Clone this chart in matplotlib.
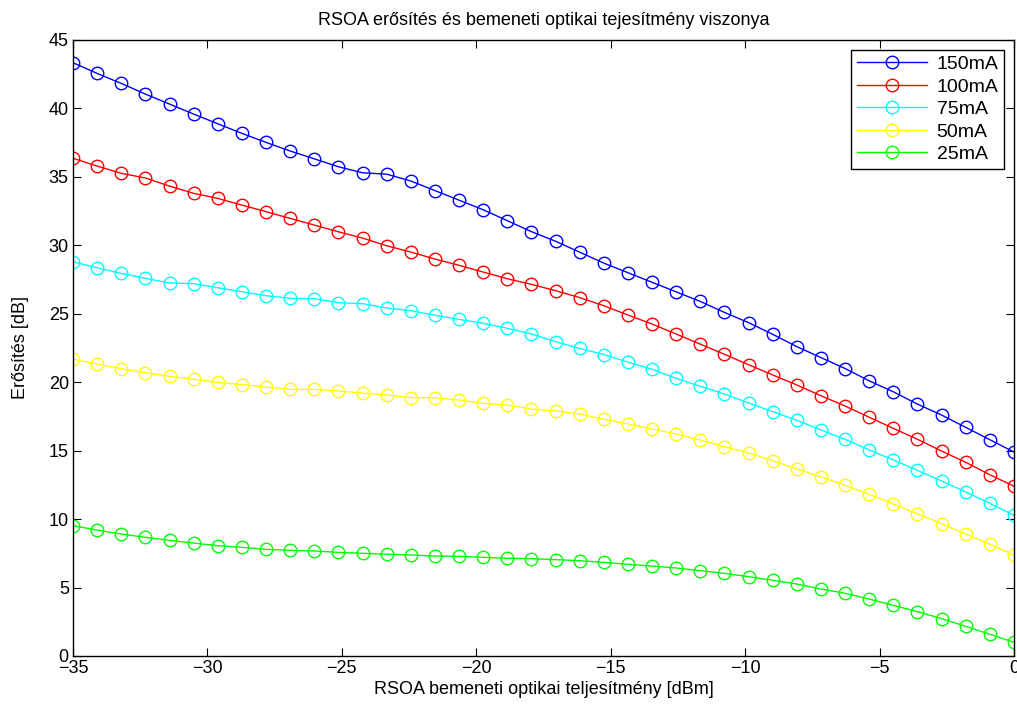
import matplotlib
matplotlib.use("Agg")
import matplotlib.pyplot as plt
import numpy as np

# input power [dBm], 40 equally spaced points from -35 to 0
p_in = np.linspace(-35, 0, 40)

gain_150 = [43.34, 42.56, 41.83, 41.05, 40.32, 39.59, 38.88, 38.18, 37.52, 36.89,
            36.32, 35.74, 35.30, 35.20, 34.70, 34.00, 33.30, 32.60, 31.80, 31.00,
            30.30, 29.50, 28.70, 28.00, 27.30, 26.60, 25.90, 25.10, 24.35, 23.50,
            22.60, 21.80, 21.00, 20.10, 19.30, 18.40, 17.60, 16.70, 15.80, 14.90]
gain_100 = [36.36, 35.79, 35.26, 34.92, 34.33, 33.80, 33.43, 32.94, 32.46, 31.97,
            31.48, 30.99, 30.53, 29.97, 29.51, 29.00, 28.54, 28.05, 27.56, 27.15,
            26.69, 26.18, 25.59, 24.91, 24.25, 23.52, 22.78, 22.04, 21.28, 20.53,
            19.80, 19.01, 18.26, 17.44, 16.63, 15.83, 14.97, 14.15, 13.24, 12.40]
gain_75 = [28.80, 28.36, 27.95, 27.59, 27.25, 27.20, 26.90, 26.61, 26.32, 26.13,
           26.10, 25.81, 25.74, 25.42, 25.23, 24.89, 24.59, 24.30, 23.94, 23.52,
           22.96, 22.47, 22.02, 21.47, 20.95, 20.28, 19.70, 19.14, 18.48, 17.85,
           17.22, 16.51, 15.83, 15.05, 14.32, 13.56, 12.78, 11.98, 11.15, 10.28]
gain_50 = [21.69, 21.33, 20.99, 20.70, 20.43, 20.21, 19.99, 19.82, 19.65, 19.48,
           19.48, 19.36, 19.21, 19.07, 18.87, 18.87, 18.70, 18.46, 18.33, 18.04,
           17.90, 17.68, 17.29, 16.95, 16.58, 16.22, 15.78, 15.29, 14.83, 14.27,
           13.66, 13.08, 12.47, 11.81, 11.10, 10.39, 9.66, 8.91, 8.16, 7.38]
gain_25 = [9.52, 9.20, 8.91, 8.67, 8.45, 8.25, 8.06, 7.94, 7.79, 7.72,
           7.67, 7.57, 7.50, 7.44, 7.38, 7.30, 7.28, 7.21, 7.14, 7.11,
           7.04, 6.96, 6.84, 6.70, 6.57, 6.43, 6.23, 6.04, 5.79, 5.53,
           5.26, 4.89, 4.58, 4.16, 3.70, 3.24, 2.73, 2.17, 1.59, 1.00]

labels = ["150mA", "100mA", "75mA", "50mA", "25mA"]
colors = ["#0000ff", "#ff0000", "#00ffff", "#ffff00", "#00ff00"]
series = [gain_150, gain_100, gain_75, gain_50, gain_25]

plt.rcParams['font.family'] = ['Liberation Sans', 'DejaVu Sans']

fig = plt.figure(figsize=(10.17, 7.07), dpi=100)
ax = fig.add_axes([73 / 1017, 1 - 656 / 707, (1014 - 73) / 1017, (656 - 40) / 707])

for y, c, lab in zip(series, colors, labels):
    ax.plot(p_in, y, color=c, linewidth=1, marker='o', markersize=9,
            markerfacecolor='none', markeredgecolor=c, markeredgewidth=1, label=lab)

ax.set_xlim(-35, 0)
ax.set_ylim(0, 45)
ax.set_xticks(np.arange(-35, 1, 5))
ax.set_yticks(np.arange(0, 46, 5))
ax.tick_params(direction='in', top=True, right=True, labelsize=13, length=6, pad=3)
for s in ax.spines.values():
    s.set_linewidth(1)

ax.set_title("RSOA erősítés és bemeneti optikai tejesítmény viszonya", fontsize=13, pad=11)
ax.set_xlabel("RSOA bemeneti optikai teljesítmény [dBm]", fontsize=13, labelpad=3)
ax.set_ylabel("Erősítés [dB]", fontsize=13, labelpad=14)

leg = ax.legend(loc='upper right', fontsize=14, fancybox=False, edgecolor='black',
                framealpha=1, handlelength=3.6, borderpad=0.3, labelspacing=0.25,
                borderaxespad=0.5, handletextpad=0.5)
leg.get_frame().set_linewidth(1)

fig.savefig("out.png", dpi=100)
